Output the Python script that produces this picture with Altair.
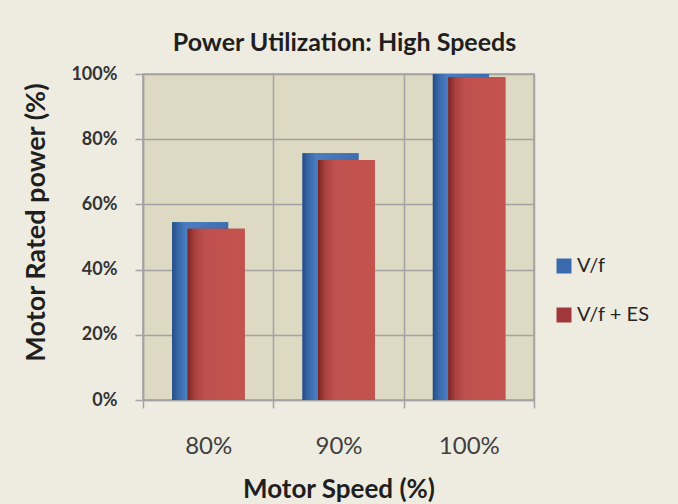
import altair as alt
import pandas as pd

speeds = ["80%", "90%", "100%"]
series = ["V/f", "V/f + ES"]
vf = [0.545, 0.757, 1.0]
vf_es = [0.525, 0.736, 0.99]

rows = []
for s, a, b in zip(speeds, vf, vf_es):
    rows.append({"speed": s, "series": series[0], "power": a})
    rows.append({"speed": s, "series": series[1], "power": b})
df = pd.DataFrame(rows)

FONT = "Lato"
GRID = "#A3A3A3"

x = alt.X(
    "speed:N",
    sort=speeds,
    scale=alt.Scale(paddingInner=0, paddingOuter=0),
    axis=alt.Axis(
        title="Motor Speed (%)",
        tickBand="extent",
        grid=True,
        gridColor=GRID,
        gridWidth=1.5,
        domainColor=GRID,
        domainWidth=1.5,
        tickColor=GRID,
        tickWidth=1.5,
        tickSize=8,
        labelAngle=0,
        labelFont=FONT,
        labelFontSize=24,
        labelColor="#404040",
        labelBaseline="alphabetic",
        labelPadding=45,
        titleFont=FONT,
        titleFontSize=26,
        titleFontWeight="bold",
        titleColor="#1F1F1F",
        titleBaseline="alphabetic",
        titleY=97,
    ),
)
y = alt.Y(
    "power:Q",
    scale=alt.Scale(domain=[0, 1], nice=False),
    axis=alt.Axis(
        title="Motor Rated power (%)",
        format=".0%",
        values=[0, 0.2, 0.4, 0.6, 0.8, 1.0],
        grid=True,
        gridColor=GRID,
        gridWidth=1.5,
        domainColor=GRID,
        domainWidth=1.5,
        tickColor=GRID,
        tickWidth=1.5,
        tickSize=8,
        labelFont=FONT,
        labelFontSize=18,
        labelFontWeight="bold",
        labelColor="#333333",
        labelPadding=18,
        titleFont=FONT,
        titleFontSize=27,
        titleFontWeight="bold",
        titleColor="#1F1F1F",
        titleAngle=270,
        titleAlign="center",
        titleBaseline="middle",
        titleX=-107,
        titleY=148,
    ),
)
color = alt.Color(
    "series:N",
    scale=alt.Scale(domain=series, range=["#3A6AAE", "#A0373A"]),
    legend=alt.Legend(
        title=None,
        orient="none",
        legendX=411,
        legendY=182,
        symbolType="square",
        symbolSize=225,
        symbolStrokeWidth=0,
        labelFont=FONT,
        labelFontSize=20,
        labelColor="#262626",
        labelOffset=3,
        rowPadding=29,
        padding=0,
    ),
)

blue_grad = alt.Gradient(
    gradient="linear",
    x1=0, x2=1, y1=0, y2=0,
    stops=[
        alt.GradientStop(color="#234C86", offset=0),
        alt.GradientStop(color="#3867A8", offset=0.1),
        alt.GradientStop(color="#4A7DC0", offset=0.25),
        alt.GradientStop(color="#3D6DAE", offset=1),
    ],
)
red_grad = alt.Gradient(
    gradient="linear",
    x1=0, x2=1, y1=0, y2=0,
    stops=[
        alt.GradientStop(color="#7A2523", offset=0),
        alt.GradientStop(color="#A8413E", offset=0.12),
        alt.GradientStop(color="#C0504D", offset=0.3),
        alt.GradientStop(color="#C4534F", offset=1),
    ],
)

base = alt.Chart(df)
blue = base.transform_filter(alt.datum.series == series[0])
red = base.transform_filter(alt.datum.series == series[1])

blue_flat = blue.mark_bar(size=56, xOffset=-8).encode(x=x, y=y, color=color)
blue_top = blue.mark_bar(size=56, xOffset=-8, color=blue_grad).encode(x=x, y=y)
red_flat = red.mark_bar(size=57, xOffset=8).encode(x=x, y=y, color=color)
red_top = red.mark_bar(size=57, xOffset=8, color=red_grad).encode(x=x, y=y)

chart = (
    alt.layer(blue_flat, blue_top, red_flat, red_top)
    .properties(
        width=391,
        height=326,
        autosize=alt.AutoSizeParams(type="none"),
        padding={"left": 143, "top": 74, "right": 144, "bottom": 104},
        background="#EEECE1",
        title=alt.Title(
            "Power Utilization: High Speeds",
            font=FONT,
            fontSize=25,
            fontWeight="bold",
            color="#1F1F1F",
            anchor="middle",
            baseline="alphabetic",
            offset=24,
            dx=6,
            dy=35,
        ),
    )
    .configure_view(fill="#DDD9C3", stroke=GRID, strokeWidth=1.5)
)

chart.save("out.html", embed_options={"renderer": "svg", "actions": False})
